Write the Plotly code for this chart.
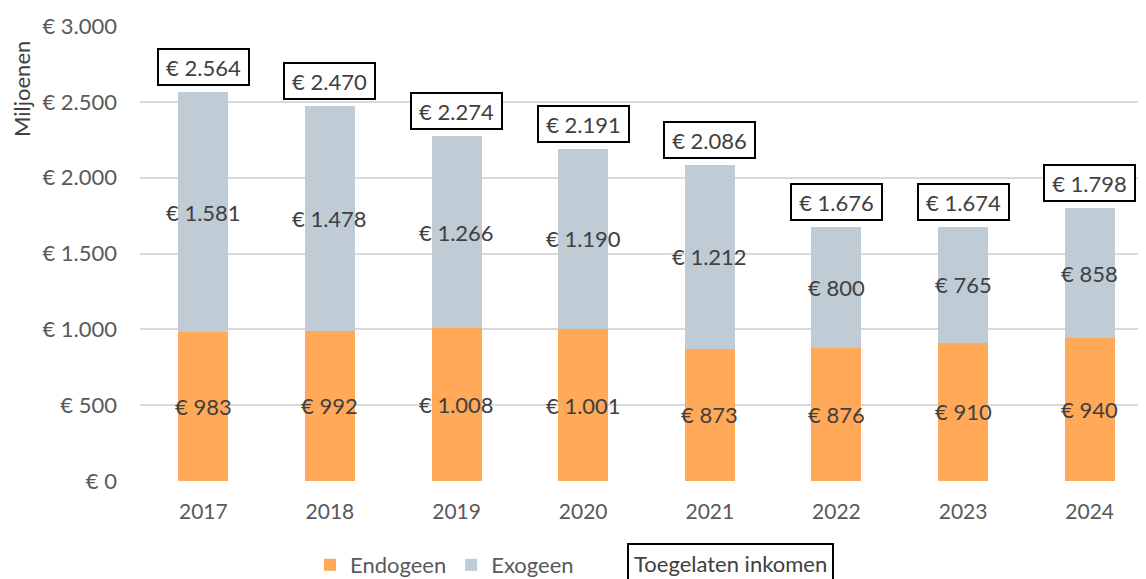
import plotly.graph_objects as go

years = ["2017", "2018", "2019", "2020", "2021", "2022", "2023", "2024"]
endogeen = [983, 992, 1008, 1001, 873, 876, 910, 940]
exogeen = [1581, 1478, 1266, 1190, 1212, 800, 765, 858]
toegelaten = [2564, 2470, 2274, 2191, 2086, 1676, 1674, 1798]
tick_vals = [0, 500, 1000, 1500, 2000, 2500, 3000]
tick_text = ["€ 0", "€ 500", "€ 1.000", "€ 1.500", "€ 2.000", "€ 2.500", "€ 3.000"]

def eur(v):
    return "€ " + f"{v:,}".replace(",", ".")

FONT = "Lato"
LABEL = "#404040"
TICK = "#595959"

# page body has an 8px margin: figure coords = screenshot coords - 8
L, T, B, R = 132, 18, 106, 1
W, H = 1146, 579
PW, PH = W - L - R, H - T - B
PLOT_BOTTOM = H - B

fig = go.Figure()
fig.add_trace(go.Bar(x=years, y=endogeen, name="Endogeen", marker_color="#FFA959",
                     marker_line_width=0, textposition="none", hoverinfo="x+y"))
fig.add_trace(go.Bar(x=years, y=exogeen, name="Exogeen", marker_color="#BFCBD5",
                     marker_line_width=0, textposition="none", hoverinfo="x+y"))

for i, (en, ex, tot) in enumerate(zip(endogeen, exogeen, toegelaten)):
    fig.add_annotation(x=i, y=en / 2, xref="x", yref="y", text=eur(en), showarrow=False,
                       font=dict(family=FONT, size=22, color=LABEL))
    fig.add_annotation(x=i, y=en + ex / 2, xref="x", yref="y", text=eur(ex), showarrow=False,
                       font=dict(family=FONT, size=22, color=LABEL))
    fig.add_annotation(
        x=i, y=tot, xref="x", yref="y", text=eur(tot), showarrow=False,
        yanchor="bottom", yshift=6, font=dict(family=FONT, size=22, color=LABEL),
        bordercolor="black", borderwidth=2, borderpad=2, width=85, height=30,
        bgcolor="white",
    )

fig.add_annotation(
    x=(14 - L) / PW, y=(PLOT_BOTTOM - 81) / PH, xref="paper", yref="paper", text="Miljoenen",
    xanchor="center", yanchor="middle",
    showarrow=False, textangle=-90, font=dict(family=FONT, size=22, color=LABEL),
)
fig.add_annotation(
    x=(722 - L) / PW, y=(PLOT_BOTTOM - 555) / PH, xref="paper", yref="paper",
    xanchor="center", yanchor="middle",
    text="Toegelaten inkomen", showarrow=False,
    font=dict(family=FONT, size=22, color=LABEL),
    bordercolor="black", borderwidth=2, borderpad=5,
)

fig.update_layout(
    width=W, height=H,
    margin=dict(l=L, r=R, t=T, b=B, autoexpand=False),
    barmode="stack", bargap=0.605,
    plot_bgcolor="white", paper_bgcolor="white",
    font=dict(family=FONT, size=22, color=TICK),
    showlegend=True,
    legend=dict(orientation="h", x=302 / W, xref="container", y=(H - 557) / H, yref="container",
                yanchor="middle", xanchor="left", traceorder="normal",
                font=dict(family=FONT, size=22, color=TICK), itemwidth=30),
)
fig.update_xaxes(type="category", range=[-0.5, 7.5], showline=False, ticks="",
                 ticklabelstandoff=16, automargin=False,
                 tickfont=dict(family=FONT, size=21, color=TICK))
fig.update_yaxes(range=[0, 3000], tickvals=tick_vals, ticktext=tick_text,
                 showgrid=True, gridcolor="#D9D9D9", gridwidth=2, zeroline=False,
                 ticks="", ticklabelstandoff=22, automargin=False,
                 tickfont=dict(family=FONT, size=22, color=TICK))

fig.write_html("out.html")
